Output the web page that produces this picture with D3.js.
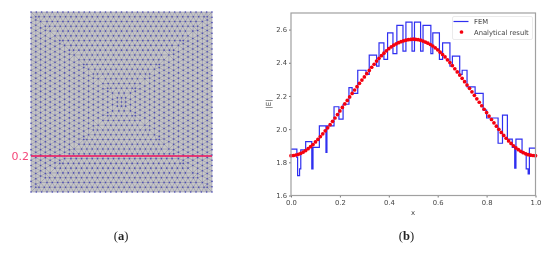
<!DOCTYPE html>
<html lang="en">
<head>
    <meta charset="UTF-8">
    <title>FEM mesh and field</title>
    <script src="https://cdn.jsdelivr.net/npm/d3@7"></script>
    <style>
        html, body { margin: 0; padding: 0; background: #fff; }
        text { font-family: "DejaVu Sans", sans-serif; }
        svg { filter: blur(0.35px); }
    </style>
</head>
<body>
    <div id="chart"></div>

    <script>
        // mesh rows: half width of each square ring, from the outside to the middle
        const ringHalf = [0.5, 0.4735, 0.447, 0.4205, 0.394, 0.3675, 0.341, 0.3145, 0.288, 0.2615, 0.235, 0.2085, 0.182, 0.1555, 0.129, 0.1025, 0.076, 0.0495, 0.023];
        const nodeSpacing = 1 / 34;
        const cutLevel = 0.2;

        // FEM step curve: femX[i] is where the level femY[i] starts
        const femX = [0, 0.024, 0.027, 0.035, 0.04, 0.06, 0.085, 0.09, 0.116, 0.143, 0.147, 0.176, 0.196, 0.213, 0.237, 0.25, 0.273, 0.307, 0.32, 0.35, 0.36, 0.38, 0.395, 0.417, 0.433, 0.458, 0.47, 0.495, 0.505, 0.53, 0.54, 0.572, 0.58, 0.607, 0.62, 0.65, 0.66, 0.69, 0.70, 0.72, 0.753, 0.786, 0.80, 0.847, 0.865, 0.885, 0.905, 0.915, 0.92, 0.945, 0.962, 0.97, 0.975, 1];
        const femY = [1.88, 1.83, 1.72, 1.76, 1.875, 1.925, 1.76, 1.89, 2.02, 1.86, 2.02, 2.135, 2.06, 2.15, 2.25, 2.215, 2.355, 2.33, 2.446, 2.38, 2.52, 2.42, 2.58, 2.455, 2.625, 2.47, 2.645, 2.47, 2.645, 2.47, 2.625, 2.455, 2.58, 2.42, 2.52, 2.38, 2.44, 2.33, 2.355, 2.255, 2.215, 2.115, 2.067, 1.915, 2.085, 1.94, 1.89, 1.765, 1.94, 1.855, 1.76, 1.73, 1.885, 1.885];

        // analytical result, one reading every 0.01 in x
        const exactY = [1.840, 1.841, 1.844, 1.848, 1.854, 1.862, 1.871, 1.882, 1.894, 1.907,
            1.923, 1.938, 1.955, 1.972, 1.990, 2.008, 2.027, 2.047, 2.067, 2.088,
            2.110, 2.131, 2.152, 2.173, 2.194, 2.215, 2.236, 2.256, 2.276, 2.296,
            2.315, 2.335, 2.354, 2.373, 2.391, 2.410, 2.427, 2.443, 2.458, 2.472,
            2.485, 2.496, 2.506, 2.514, 2.521, 2.527, 2.532, 2.536, 2.539, 2.541,
            2.542, 2.541, 2.539, 2.536, 2.531, 2.525, 2.518, 2.510, 2.501, 2.490,
            2.478, 2.464, 2.450, 2.435, 2.418, 2.401, 2.383, 2.364, 2.345, 2.326,
            2.306, 2.286, 2.266, 2.246, 2.225, 2.204, 2.183, 2.162, 2.141, 2.120,
            2.100, 2.079, 2.058, 2.038, 2.018, 1.999, 1.980, 1.962, 1.945, 1.929,
            1.914, 1.900, 1.887, 1.876, 1.866, 1.858, 1.851, 1.846, 1.843, 1.841, 1.840];

        const xTicks = [0, 0.2, 0.4, 0.6, 0.8, 1];
        const yTicks = [1.6, 1.8, 2, 2.2, 2.4, 2.6];
        const legendLabels = ["FEM", "Analytical result"];

        const width = 550;
        const height = 253;

        const svg = d3.select("#chart").append("svg")
            .attr("width", width)
            .attr("height", height)
            .style("display", "block");

        // left panel, the mesh
        const meshX = d3.scaleLinear().domain([0, 1]).range([31, 212]);
        const meshY = d3.scaleLinear().domain([0, 1]).range([192, 12]);

        // straight staggered rows along each side, a corner node on the diagonals
        const nodes = [[0.5, 0.5]];
        ringHalf.forEach((h, r) => {
            [[-1, -1], [1, -1], [1, 1], [-1, 1]].forEach(([a, b]) => nodes.push([0.5 + a * h, 0.5 + b * h]));
            const shift = r % 2 ? nodeSpacing / 2 : 0;
            const kMax = Math.ceil(h / nodeSpacing);
            for (let k = -kMax; k <= kMax; k++) {
                const t = k * nodeSpacing + shift;
                if (Math.abs(t) > h - nodeSpacing * 0.45) continue;
                nodes.push([0.5 + t, 0.5 - h]);
                nodes.push([0.5 + t, 0.5 + h]);
                nodes.push([0.5 - h, 0.5 + t]);
                nodes.push([0.5 + h, 0.5 + t]);
            }
        });

        const delaunay = d3.Delaunay.from(nodes, d => meshX(d[0]), d => meshY(d[1]));

        svg.append("rect")
            .attr("x", meshX(0))
            .attr("y", meshY(1))
            .attr("width", meshX(1) - meshX(0))
            .attr("height", meshY(0) - meshY(1))
            .attr("fill", "#c6c6c6");

        svg.append("path")
            .attr("d", delaunay.render())
            .attr("fill", "none")
            .attr("stroke", "#8e8eaa")
            .attr("stroke-width", 0.55);

        svg.append("g")
            .attr("fill", "#4a4ab4")
            .selectAll("circle")
            .data(nodes)
            .join("circle")
            .attr("cx", d => meshX(d[0]))
            .attr("cy", d => meshY(d[1]))
            .attr("r", 0.8);

        svg.append("line")
            .attr("x1", meshX(0))
            .attr("x2", meshX(1))
            .attr("y1", meshY(cutLevel))
            .attr("y2", meshY(cutLevel))
            .attr("stroke", "#f0105c")
            .attr("stroke-width", 1.6);

        svg.append("text")
            .attr("x", 29)
            .attr("y", meshY(cutLevel) + 4)
            .attr("text-anchor", "end")
            .attr("font-size", 11)
            .attr("fill", "#f4477a")
            .text(cutLevel);

        // right panel, the curves
        const x = d3.scaleLinear().domain([0, 1]).range([291, 535.5]);
        const y = d3.scaleLinear().domain([1.6, 2.7]).range([195.5, 13]);

        const line = d3.line()
            .x(d => x(d[0]))
            .y(d => y(d[1]))
            .curve(d3.curveStepAfter);

        svg.append("path")
            .attr("d", line(femX.map((d, i) => [d, femY[i]])))
            .attr("fill", "none")
            .attr("stroke", "#2f2ff0")
            .attr("stroke-width", 1.2);

        svg.append("g")
            .attr("fill", "#f5000f")
            .selectAll("circle")
            .data(exactY)
            .join("circle")
            .attr("cx", (d, i) => x(i / 100))
            .attr("cy", d => y(d))
            .attr("r", 1.85);

        svg.append("g")
            .attr("transform", `translate(0,${y(1.6)})`)
            .call(d3.axisBottom(x).tickValues(xTicks).tickFormat(d3.format(".1f")).tickSize(2).tickPadding(3))
            .call(g => g.select(".domain").remove())
            .call(g => g.selectAll("text").attr("font-size", 6.8).attr("fill", "#444"))
            .call(g => g.selectAll("line").attr("stroke", "#777"));

        svg.append("g")
            .attr("transform", `translate(${x(0)},0)`)
            .call(d3.axisLeft(y).tickValues(yTicks).tickFormat(d3.format(".1f")).tickSize(2).tickPadding(2))
            .call(g => g.select(".domain").remove())
            .call(g => g.selectAll("text").attr("font-size", 6.8).attr("fill", "#444"))
            .call(g => g.selectAll("line").attr("stroke", "#777"));

        svg.append("rect")
            .attr("x", x(0))
            .attr("y", y(2.7))
            .attr("width", x(1) - x(0))
            .attr("height", y(1.6) - y(2.7))
            .attr("fill", "none")
            .attr("stroke", "#a0a0a0")
            .attr("stroke-width", 1.2);

        svg.append("text")
            .attr("x", 413)
            .attr("y", 215)
            .attr("text-anchor", "middle")
            .attr("font-size", 7)
            .attr("fill", "#444")
            .text("x");

        svg.append("text")
            .attr("transform", "translate(271,104) rotate(-90)")
            .attr("text-anchor", "middle")
            .attr("font-size", 7)
            .attr("fill", "#444")
            .text("|E|");

        // legend
        const legend = svg.append("g");
        legend.append("rect")
            .attr("x", 452.5)
            .attr("y", 16.5)
            .attr("width", 80)
            .attr("height", 23)
            .attr("rx", 1.5)
            .attr("fill", "#fff")
            .attr("fill-opacity", 0.85)
            .attr("stroke", "#e2e2e2")
            .attr("stroke-width", 0.7);
        legend.append("line")
            .attr("x1", 453.5)
            .attr("x2", 468.5)
            .attr("y1", 21.5)
            .attr("y2", 21.5)
            .attr("stroke", "#2f2ff0")
            .attr("stroke-width", 1.2);
        legend.append("circle")
            .attr("cx", 461.5)
            .attr("cy", 32)
            .attr("r", 1.85)
            .attr("fill", "#f5000f");
        legend.selectAll("text")
            .data(legendLabels)
            .join("text")
            .attr("x", 474)
            .attr("y", (d, i) => 24 + i * 10.5)
            .attr("font-size", 6.8)
            .attr("fill", "#444")
            .text(d => d);

        // panel captions
        const captions = [["a", 121], ["b", 406.5]];
        captions.forEach(([letter, cx]) => {
            const t = svg.append("text")
                .attr("x", cx)
                .attr("y", 240)
                .attr("text-anchor", "middle")
                .attr("font-size", 12.5)
                .attr("fill", "#222")
                .style("font-family", '"Liberation Serif", serif');
            t.append("tspan").text("(");
            t.append("tspan").attr("font-weight", "bold").text(letter);
            t.append("tspan").text(")");
        });
    </script>
</body>
</html>
